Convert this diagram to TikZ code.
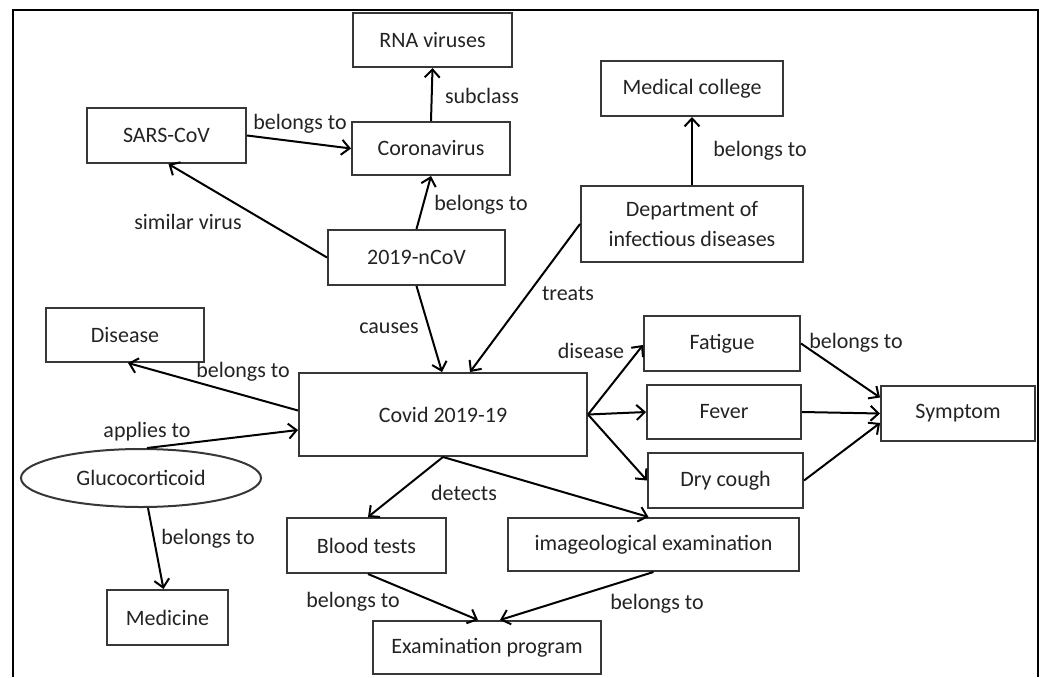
\documentclass[tikz,border=0pt]{standalone}
\usepackage{fontspec}
\setmainfont{Carlito}
\usetikzlibrary{arrows.meta,shapes.geometric}
\definecolor{txt}{RGB}{35,35,35}
\definecolor{boxline}{RGB}{55,55,55}
\begin{document}
\begin{tikzpicture}[x=1pt,y=-1pt,
  box/.style={draw=boxline, line width=2pt, inner sep=0pt, text=txt, font=\fontsize{22}{30}\selectfont, align=center},
  lbl/.style={inner sep=0pt, text=txt, font=\fontsize{22}{26}\selectfont},
  arr/.style={line width=2pt, -{Straight Barb[length=8pt,width=15pt]}}
]
\useasboundingbox (0,0) rectangle (1051,677);
\draw[line width=2.6pt] (13,677) -- (13,10) -- (1038,10) -- (1038,677);

% nodes
\node[box, minimum width=159pt, minimum height=54pt] (rna) at (432.5,40) {RNA viruses};
\node[box, minimum width=159pt, minimum height=55pt] (sars) at (166.5,135.5) {SARS-CoV};
\node[box, minimum width=158pt, minimum height=53pt] (corona) at (431,148.5) {Coronavirus};
\node[box, minimum width=177pt, minimum height=55pt] (ncov) at (416.5,257.5) {2019-nCoV};
\node[box, minimum width=182pt, minimum height=55pt] (medcol) at (692,88.5) {Medical college};
\node[box, minimum width=222pt, minimum height=76pt] (dept) at (692,224) {Department of\\infectious diseases};
\node[box, minimum width=158pt, minimum height=54pt] (disease) at (125,335) {Disease};
\node[box, minimum width=288pt, minimum height=83pt] (covid) at (443,414.5) {Covid 2019-19};
\node[box, ellipse, minimum width=240pt, minimum height=58pt] (gluco) at (141,478) {Glucocorticoid};
\node[box, minimum width=121pt, minimum height=55pt] (medicine) at (167.5,617.5) {Medicine};
\node[box, minimum width=159pt, minimum height=55pt] (blood) at (366.5,545.5) {Blood tests};
\node[box, minimum width=228pt, minimum height=53pt] (exam) at (487,647.5) {Examination program};
\node[box, minimum width=291pt, minimum height=53pt] (imageo) at (653.5,544.5) {imageological examination};
\node[box, minimum width=156pt, minimum height=55pt] (fatigue) at (722,343.5) {Fatigue};
\node[box, minimum width=154pt, minimum height=54pt] (fever) at (724,412) {Fever};
\node[box, minimum width=155pt, minimum height=55pt] (dry) at (725.5,480.5) {Dry cough};
\node[box, minimum width=154pt, minimum height=55pt] (symptom) at (958,413.5) {Symptom};

% connectors
\draw[arr] (corona.north) -- (rna.south);
\draw[arr] (sars.east) -- (corona.west);
\draw[arr] (ncov.west) -- ([xshift=2pt]sars.south);
\draw[arr] (ncov.north) -- (corona.south);
\draw[arr] (ncov.south) -- ([xshift=-1pt]covid.north);
\draw[arr] (dept.north) -- (medcol.south);
\draw[arr] (dept.west) -- ([xshift=27pt]covid.north);
\draw[arr] ([yshift=4pt]covid.west) -- ([xshift=3pt]disease.south);
\draw[arr] ([xshift=6pt]gluco.north) -- ([yshift=-15.5pt]covid.west);
\draw[arr] ([xshift=7pt]gluco.south) -- ([xshift=-4pt]medicine.north);
\draw[arr] (covid.south) -- ([xshift=1.5pt]blood.north);
\draw[arr] (covid.south) -- ([xshift=-5pt]imageo.north);
\draw[arr] ([xshift=1.5pt]blood.south) -- ([xshift=-9pt]exam.north);
\draw[arr] (imageo.south) -- ([xshift=13pt]exam.north);
\draw[arr] (covid.east) -- ([yshift=-1.5pt]fatigue.west);
\draw[arr] (covid.east) -- (fever.west);
\draw[arr] (covid.east) -- (dry.west);
\draw[arr] (fatigue.east) -- ([yshift=16pt]symptom.west);
\draw[arr] (fever.east) -- (symptom.west);
\draw[arr] (dry.east) -- ([yshift=-9.5pt]symptom.west);

% labels
\node[lbl] (l1) at (482,96) {subclass};
\node[lbl] (l2) at (300,124) {belongs to};
\node[lbl] (l3) at (188,222) {similar virus};
\node[lbl] (l4) at (481,205) {belongs to};
\node[lbl] (l5) at (760,151) {belongs to};
\node[lbl] (l6) at (568,294) {treats};
\node[lbl] (l7) at (389,328) {causes};
\node[lbl] (l8) at (243,372) {belongs to};
\node[lbl] (l9) at (147,432) {applies to};
\node[lbl] (l10) at (208,539) {belongs to};
\node[lbl] (l11) at (464,493) {detects};
\node[lbl] (l12) at (353,602) {belongs to};
\node[lbl] (l13) at (657,604) {belongs to};
\node[lbl] (l14) at (591,351) {disease};
\node[lbl] (l15) at (856,343) {belongs to};
\end{tikzpicture}
\end{document}
